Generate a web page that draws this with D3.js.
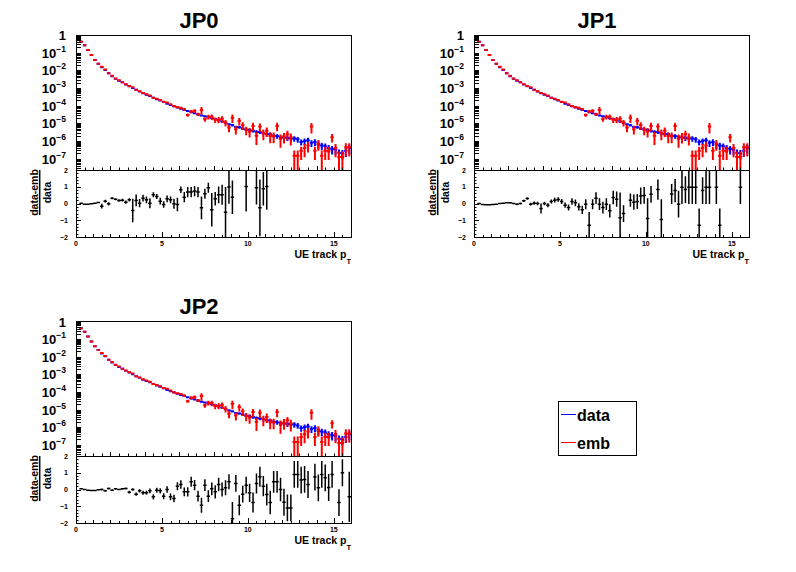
<!DOCTYPE html>
<html><head><meta charset="utf-8">
<script src="https://cdn.jsdelivr.net/npm/d3@7"></script>
<style>
body{margin:0;background:#fff}
svg{display:block}
text{font-family:"Liberation Sans",Arial,Helvetica,sans-serif;font-weight:bold;fill:#000}
</style>
</head><body>
<svg id="c" width="796" height="572"></svg>
<script>
// ---------------- DATA ----------------
const panelTitles = ["JP0", "JP1", "JP2"];
const ptBins = [0.3,0.5,0.7,0.9,1.1,1.3,1.5,1.7,1.9,2.1,2.3,2.5,2.7,2.9,3.1,3.3,3.5,3.7,3.9,4.1,
 4.3,4.5,4.7,4.9,5.1,5.3,5.5,5.7,5.9,6.1,6.3,6.5,6.7,6.9,7.1,7.3,7.5,7.7,7.9,8.1,8.3,8.5,8.7,8.9,9.1,
 9.3,9.5,9.7,9.9,10.1,10.3,10.5,10.7,10.9,11.1,11.3,11.5,11.7,11.9,12.1,12.3,12.5,12.7,12.9,13.1,13.3,
 13.5,13.7,13.9,14.1,14.3,14.5,14.7,14.9,15.1,15.3,15.5,15.7,15.9];
const binWidth = 0.2;

// "data" spectrum (blue)
const dataVals = [4.2e-1,2.6e-1,1.4e-1,7.4e-2,3.9e-2,2.4e-2,1.5e-2,1.05e-2,6.8e-3,4.7e-3,3.4e-3,2.6e-3,2.1e-3,1.6e-3,1.26e-3,1.0e-3,7.9e-4,6.3e-4,5.0e-4,4.2e-4,
 3.5e-4,2.8e-4,2.3e-4,1.95e-4,1.6e-4,1.3e-4,1.1e-4,9.3e-5,7.9e-5,6.8e-5,5.8e-5,5.0e-5,4.3e-5,3.7e-5,3.2e-5,2.8e-5,2.5e-5,2.2e-5,2.0e-5,1.74e-5,
 1.5e-5,1.26e-5,1.07e-5,8.9e-6,7.9e-6,6.3e-6,6.0e-6,5.2e-6,4.5e-6,4.2e-6,3.8e-6,3.3e-6,3.2e-6,2.8e-6,2.5e-6,2.4e-6,2.0e-6,1.9e-6,1.66e-6,1.6e-6,
 1.5e-6,1.4e-6,1.4e-6,1.26e-6,8.9e-7,1.0e-6,1.1e-6,7.9e-7,8.9e-7,6.3e-7,5.6e-7,5.0e-7,4.0e-7,3.5e-7,3.2e-7,2.2e-7,2.0e-7,2.8e-7,4.0e-7];
const dataRelErr = [0.01,0.01,0.01,0.01,0.01,0.01,0.01,0.01,0.01,0.01,0.01,0.01,0.01,0.01,0.01,0.01,0.01,0.01,0.01,0.01,
 0.02,0.02,0.03,0.03,0.03,0.04,0.04,0.05,0.05,
 0.06,0.06,0.07,0.07,0.08,0.08,0.09,0.1,0.1,0.11,
 0.12,0.12,0.13,0.14,0.15,0.15,0.16,0.17,0.18,0.19,
 0.2,0.2,0.22,0.22,0.24,0.25,0.26,0.27,0.28,0.3,
 0.3,0.32,0.33,0.35,0.36,0.38,0.4,0.4,0.42,0.42,
 0.44,0.45,0.46,0.48,0.5,0.5,0.52,0.55,0.55,0.55];

// "emb" spectrum (red)
const embVals = [4.2e-1,2.6e-1,1.4e-1,7.4e-2,3.9e-2,2.4e-2,1.6e-2,1.1e-2,6.8e-3,5.0e-3,3.5e-3,2.75e-3,2.1e-3,1.66e-3,1.3e-3,1.1e-3,7.9e-4,6.6e-4,5.2e-4,4.5e-4,
 3.8e-4,2.8e-4,2.5e-4,2.1e-4,1.66e-4,1.5e-4,1.2e-4,9.5e-5,8.3e-5,7.6e-5,6.3e-5,3.0e-5,4.7e-5,5.1e-5,3.3e-5,5.8e-5,1.74e-5,2.4e-5,2.35e-5,1.6e-5,
 1.66e-5,1.8e-5,1.12e-5,5.8e-6,2.1e-5,4.7e-6,1.4e-5,7.9e-6,4.3e-6,3.5e-6,7.2e-6,2.0e-6,6.6e-6,2.8e-6,3.8e-6,1.9e-6,1.9e-6,7.2e-6,1.4e-6,1.8e-6,
 2.45e-6,1.6e-6,1.45e-7,1.45e-7,2.8e-7,4.0e-7,5.6e-7,6.6e-6,2.8e-7,7.1e-7,1.45e-7,2.8e-7,2.8e-7,1.66e-6,4.0e-7,1.26e-7,1.26e-7,4.4e-7,4.4e-7];
const embRelErr = [0.01,0.01,0.01,0.01,0.01,0.01,0.02,0.02,0.02,0.03,0.03,0.03,0.04,0.04,0.05,0.05,0.06,0.06,0.07,0.08,
 0.08,0.09,0.1,0.1,0.11,0.12,0.13,0.14,0.15,
 0.16,0.18,0.2,0.2,0.22,0.2,0.45,0.28,0.3,0.35,
 0.35,0.38,0.4,0.4,0.45,0.5,0.5,0.45,0.45,0.5,
 0.55,0.5,0.7,0.5,0.6,0.55,0.6,0.6,0.5,0.7,
 0.6,0.55,0.65,1.0,1.0,0.7,0.7,0.6,0.6,0.7,
 0.6,1.0,0.7,0.7,0.5,0.7,1.0,1.0,0.7,0.7];

// ratio (data-emb)/data, per panel
const jp0RatioPt = [0.3,0.5,0.7,0.9,1.1,1.3,1.5,1.7,1.9,2.1,2.3,2.5,2.7,2.9,3.1,3.3,3.5,3.7,3.9,4.1,4.3,4.5,4.7,4.9,5.1,5.3,5.5,5.7,5.9,
 6.1,6.3,6.5,6.7,6.9,7.1,7.3,7.5,7.7,7.9,8.1,8.3,8.5,8.7,8.9,9.1,9.9,10.5,10.7,10.9,11.1];
const jp0Ratio = [0.02,-0.04,-0.04,-0.02,0.02,0.06,-0.16,0.14,-0.02,0.32,0.26,0.18,0.2,0.08,0.22,-0.42,0.18,0.02,0.32,0.22,0.02,0.52,0.42,0.14,-0.06,0.28,0.22,-0.02,-0.06,
 0.82,0.38,0.68,0.68,0.74,0.68,-0.26,0.58,0.94,-0.38,0.28,0.52,0.52,-0.52,0.98,0.38,1.02,0.94,-0.26,0.88,1.02];
const jp0RatioErr = [0.02,0.02,0.02,0.02,0.03,0.04,0.14,0.08,0.1,0.06,0.06,0.08,0.08,0.1,0.1,0.7,0.35,0.25,0.2,0.2,0.3,0.15,0.15,0.2,0.2,0.2,0.2,0.3,0.4,
 0.2,0.3,0.3,0.3,0.3,0.3,0.68,0.3,0.3,1.0,0.4,0.5,0.6,1.5,1.0,1.0,1.5,1.0,1.7,1.0,1.4];

const jp1RatioPt = [0.3,0.5,0.7,0.9,1.1,1.3,1.5,1.7,1.9,2.1,2.3,2.5,2.7,2.9,3.1,3.3,3.5,3.7,3.9,4.1,4.3,4.5,4.7,4.9,5.1,5.3,5.5,5.7,5.9,
 6.1,6.3,6.5,6.7,6.9,7.1,7.3,7.5,7.7,7.9,8.1,8.3,8.5,8.7,
 9.1,9.3,9.5,9.7,9.9,10.1,10.3,10.7,10.9,11.5,11.7,11.9,12.1,12.3,12.5,12.7,12.9,13.1,13.3,13.5,13.7,14.1,14.3,15.5];
const jp1Ratio = [0,-0.06,-0.08,-0.08,-0.06,-0.04,0,0.02,0.04,0.04,0,-0.04,0,0.16,0.3,-0.04,0.02,0,-0.3,0,-0.1,0.12,0.2,0.24,0.12,-0.1,-0.24,0.12,0.04,
 -0.2,-0.38,-0.04,-1.3,-0.04,0.32,-0.04,-0.24,-0.04,-0.44,0.36,0.26,-0.85,-0.6,
 0.2,0.08,0.12,0.45,0.48,-0.89,0.55,0.83,-0.95,0.57,0.77,-0.04,0.97,0.83,0.97,0.97,0.97,-1.3,0.77,0.97,0.97,0.97,-1.3,0.97];
const jp1RatioErr = [0.02,0.02,0.02,0.02,0.03,0.03,0.03,0.04,0.04,0.05,0.05,0.06,0.06,
 0.07,0.08,0.08,0.1,0.1,0.3,0.1,0.12,0.12,0.14,
 0.14,0.15,0.16,0.18,0.2,0.2,0.22,0.25,0.3,0.8,
 0.3,0.35,0.35,0.35,0.35,0.4,0.4,0.45,1.5,0.5,
 0.4,0.45,0.45,0.5,0.5,1.2,0.5,0.6,1.2,0.6,0.7,0.8,1.0,0.8,1.0,1.0,1.0,1.0,0.8,1.0,1.0,1.0,1.0,1.0];

const jp2RatioPt = [0.3,0.5,0.7,0.9,1.1,1.3,1.5,1.7,1.9,2.1,2.3,2.5,2.7,2.9,3.1,3.3,3.5,3.7,3.9,4.1,4.3,4.5,4.7,4.9,5.1,5.3,5.5,5.7,5.9,
 6.1,6.3,6.5,6.7,6.9,7.1,7.3,7.5,7.7,7.9,8.1,8.3,8.5,8.7,8.9,9.1,9.3,9.5,9.7,9.9,10.1,10.3,10.5,10.7,10.9,11.1,11.3,11.5,11.7,11.9,
 12.1,12.3,12.5,12.7,12.9,13.1,13.3,13.5,13.9,14.1,14.3,14.5,14.7,14.9,15.3,15.5,15.9];
const jp2Ratio = [0.04,0,-0.04,-0.06,-0.06,-0.02,0,-0.08,0.06,-0.04,0.04,0,0.04,0.06,-0.16,0,-0.28,-0.08,-0.2,-0.2,-0.08,-0.44,-0.04,-0.08,-0.4,0,-0.44,-0.54,0.2,
 0.3,-0.14,-0.14,0.46,0.26,-0.4,-0.94,0.26,-0.4,0.04,-0.14,0.3,0,0.1,0.46,-1.74,0.36,-0.94,-0.28,0.26,-0.2,-0.78,0.36,0.76,0.2,-0.3,-0.78,0.46,0.46,0,
 -0.76,-1.1,-1.1,0.9,0.9,0.56,0.6,0.3,0.74,0.1,0.9,0.7,0.12,0.9,-0.78,1.0,-0.44];
const jp2RatioErr = [0.02,0.02,0.02,0.02,0.03,0.03,0.06,0.06,0.06,0.05,0.05,0.05,0.05,
 0.06,0.08,0.08,0.1,0.1,0.12,0.12,0.14,0.15,0.15,
 0.16,0.18,0.2,0.2,0.22,0.24,0.25,0.26,0.28,0.3,
 0.3,0.32,0.45,0.35,0.35,0.38,0.4,0.4,0.42,0.45,
 0.45,1.0,0.5,0.6,0.5,0.5,0.55,0.6,0.6,0.6,
 0.6,0.65,0.7,0.65,0.65,0.7,0.8,0.8,0.8,0.8,
 0.8,0.8,0.8,0.8,
 0.8,0.8,0.8,0.8,0.8,0.8,0.8,0.8,1.5];

const legendLabels = ["data", "emb"];
const seriesColors = {data: "#0000ff", emb: "#ff0000", ratio: "#000000"};
const yTickPowers = [0,-1,-2,-3,-4,-5,-6,-7];
const ratioTicks = [-2,-1,0,1,2];
const xLabelTicks = [0,5,10,15];

// ---------------- LAYOUT ----------------
const Y_MIN = 2.3e-8;
const layout = [
  {x0:76, x1:351, top:35, mid:170, bot:237, tx:199, ty:28},
  {x0:474, x1:749, top:35, mid:170, bot:237, tx:597, ty:28},
  {x0:76, x1:351, top:321.5, mid:456, bot:523, tx:199, ty:314}
];
const ratioSets = [
  {pt: jp0RatioPt, v: jp0Ratio, e: jp0RatioErr},
  {pt: jp1RatioPt, v: jp1Ratio, e: jp1RatioErr},
  {pt: jp2RatioPt, v: jp2Ratio, e: jp2RatioErr}
];

const svg = d3.select("#c");
svg.append("rect").attr("width",796).attr("height",572).attr("fill","#fff");
const defs = svg.append("defs");

function drawPanel(idx) {
  const L = layout[idx];
  const R = ratioSets[idx];
  const g = svg.append("g");
  const x = d3.scaleLinear().domain([0,16]).range([L.x0, L.x1]);
  const yT = d3.scaleLog().domain([Y_MIN, 1]).range([L.mid, L.top]);
  const yR = d3.scaleLinear().domain([-2,2]).range([L.bot, L.mid]);

  const cT = "clipT"+idx, cR = "clipR"+idx;
  defs.append("clipPath").attr("id",cT).append("rect")
    .attr("x",L.x0).attr("y",L.top).attr("width",L.x1-L.x0).attr("height",L.mid-L.top);
  defs.append("clipPath").attr("id",cR).append("rect")
    .attr("x",L.x0).attr("y",L.mid).attr("width",L.x1-L.x0).attr("height",L.bot-L.mid);

  g.append("text").attr("x",L.tx).attr("y",L.ty).attr("text-anchor","middle")
    .style("font-size","22px").text(panelTitles[idx]);

  function crossPath(pt, v, e, ys, floorY) {
    const xl = x(pt - binWidth/2), xr = x(pt + binWidth/2), xc = x(pt);
    const yc = ys(v);
    const yu = ys(v*(1+e));
    const lo = v*(1-e);
    const yl = (lo > ys.domain()[0]) ? ys(lo) : floorY;
    return `M${xl},${yc}H${xr}M${xc},${yu}V${yl}`;
  }
  const spec = g.append("g").attr("clip-path",`url(#${cT})`).attr("fill","none");
  spec.append("path").attr("stroke",seriesColors.data).attr("stroke-width",2)
    .attr("d", ptBins.map((pt,i)=>crossPath(pt,dataVals[i],dataRelErr[i],yT,L.mid+2)).join(""));
  spec.append("path").attr("stroke",seriesColors.emb).attr("stroke-width",2)
    .attr("d", ptBins.map((pt,i)=>crossPath(pt,embVals[i],embRelErr[i],yT,L.mid+2)).join(""));

  const rat = g.append("g").attr("clip-path",`url(#${cR})`).attr("fill","none");
  rat.append("path").attr("stroke",seriesColors.ratio).attr("stroke-width",1.5)
    .attr("d", R.pt.map((pt,i)=>{
      const xl = x(pt-binWidth/2), xr = x(pt+binWidth/2), xc = x(pt);
      return `M${xl},${yR(R.v[i])}H${xr}M${xc},${yR(R.v[i]+R.e[i])}V${yR(R.v[i]-R.e[i])}`;
    }).join(""));

  const ax = g.append("g").attr("stroke","#000").attr("fill","none").attr("shape-rendering","crispEdges");
  ax.append("rect").attr("x",L.x0).attr("y",L.top).attr("width",L.x1-L.x0).attr("height",L.mid-L.top);
  ax.append("rect").attr("x",L.x0).attr("y",L.mid).attr("width",L.x1-L.x0).attr("height",L.bot-L.mid);

  let tk = "";
  for (let p=-8; p<=0; p++) {
    for (let m=1; m<=9; m++) {
      const v = m*Math.pow(10,p);
      if (v < Y_MIN || v > 1.0001) continue;
      const yy = Math.round(yT(v))+0.5;
      tk += `M${L.x0},${yy}H${L.x0+5}`;
    }
  }
  for (let t=0; t<=16.001; t+=0.5) {
    const xx = Math.round(x(t))+0.5;
    const len = (Math.abs(t/2-Math.round(t/2))<1e-6) ? 4 : 2.5;
    tk += `M${xx},${L.mid}V${L.mid-len}`;
  }
  for (let t=-2; t<=2.0001; t+=0.2) {
    const yy = Math.round(yR(t))+0.5;
    const len = (Math.abs(t-Math.round(t))<1e-6) ? 5 : 2.5;
    tk += `M${L.x0},${yy}H${L.x0+len}`;
  }
  for (let t=0; t<=16.001; t+=0.5) {
    const xx = Math.round(x(t))+0.5;
    const len = (Math.abs(t/5-Math.round(t/5))<1e-6) ? 5 : (Math.abs(t-Math.round(t))<1e-6 ? 3 : 2);
    tk += `M${xx},${L.bot}V${L.bot-len}`;
  }
  ax.append("path").attr("d",tk).attr("shape-rendering","auto").attr("stroke-width",1);

  yTickPowers.forEach(p=>{
    const yy = yT(Math.pow(10,p));
    const t = g.append("text").attr("x",L.x0-10).attr("y",yy+5).attr("text-anchor","end")
      .style("font-size","13px");
    if (p===0) { t.text("1"); }
    else {
      t.append("tspan").text("10");
      t.append("tspan").attr("dy",-6).style("font-size","8.5px").text("\u2212"+(-p));
    }
  });
  ratioTicks.forEach(v=>{
    g.append("text").attr("x",L.x0-8).attr("y",yR(v)+2.5).attr("text-anchor","end")
      .style("font-size","7px").text(v<0 ? "\u2212"+(-v) : String(v));
  });
  xLabelTicks.forEach(v=>{
    g.append("text").attr("x",x(v)).attr("y",L.bot+8.5).attr("text-anchor","middle")
      .style("font-size","7px").text(String(v));
  });
  const xt = g.append("text").attr("x",L.x1).attr("y",L.bot+20.5).attr("text-anchor","end")
    .style("font-size","10.5px");
  xt.append("tspan").text("UE track p");
  xt.append("tspan").attr("dy",6.5).style("font-size","7.5px").text("T");

  const yt = g.append("g").attr("transform",`translate(${L.x0-36.3},${L.mid}) rotate(-90)`);
  yt.append("text").attr("x",-22.5).attr("y",-2).attr("text-anchor","middle")
    .style("font-size","10.5px").text("data-emb");
  yt.append("line").attr("x1",-45).attr("x2",0).attr("y1",0).attr("y2",0)
    .attr("stroke","#000").attr("stroke-width",1.5);
  yt.append("text").attr("x",-22.5).attr("y",11).attr("text-anchor","middle")
    .style("font-size","10.5px").text("data");
}

[0,1,2].forEach(drawPanel);

const lg = svg.append("g");
lg.append("rect").attr("x",558.5).attr("y",401.5).attr("width",78).attr("height",54)
  .attr("fill","#fff").attr("stroke","#000");
const legendColors = [seriesColors.data, seriesColors.emb];
const legendY = [414.5, 442.5];
legendLabels.forEach((lab,i)=>{
  lg.append("line").attr("x1",561).attr("x2",576).attr("y1",legendY[i]).attr("y2",legendY[i])
    .attr("stroke",legendColors[i]).attr("stroke-width",1);
  lg.append("text").attr("x",577).attr("y",legendY[i]+6).style("font-size","16px").text(lab);
});
</script>
</body></html>
